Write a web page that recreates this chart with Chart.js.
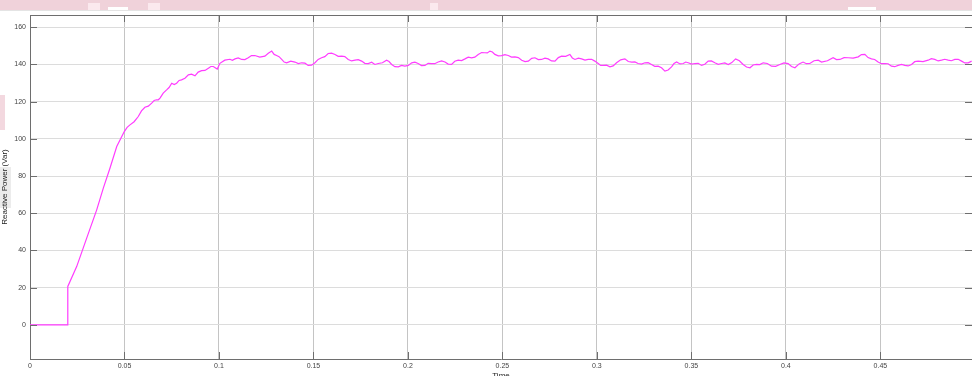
<!DOCTYPE html>
<html>
<head>
<meta charset="utf-8">
<script src="https://cdn.jsdelivr.net/npm/chart.js@4.4.1/dist/chart.umd.min.js"></script>
<style>
  html, body { margin: 0; padding: 0; background: #ffffff; overflow: hidden; }
  canvas { display: block; }
</style>
</head>
<body>
<canvas id="q" width="972" height="376" style="width:972px;height:376px"></canvas>
<script>
// Simulation time (s)
const timeSec = [
  0, 0.0199, 0.0200, 0.0247, 0.0300, 0.0353, 0.0388, 0.0423, 0.0459, 0.0499,
  0.0514, 0.0529, 0.0551, 0.0573, 0.0590, 0.0608, 0.0626, 0.0644, 0.0657, 0.0670,
  0.0679, 0.0688, 0.0705, 0.0723, 0.0736, 0.0750, 0.0763, 0.0776, 0.0789, 0.0802,
  0.0820, 0.0838, 0.0855, 0.0873, 0.0890, 0.0908, 0.0926, 0.0944, 0.0957, 0.0970,
  0.0991, 0.1005, 0.1031, 0.1058, 0.1071, 0.1085, 0.1102, 0.1120, 0.1137, 0.1155,
  0.1172, 0.1190, 0.1216, 0.1243, 0.1261, 0.1279, 0.1292, 0.1305, 0.1318, 0.1332,
  0.1345, 0.1358, 0.1380, 0.1402, 0.1420, 0.1438, 0.1455, 0.1472, 0.1490, 0.1508,
  0.1525, 0.1543, 0.1560, 0.1578, 0.1596, 0.1614, 0.1631, 0.1649, 0.1666, 0.1684,
  0.1702, 0.1720, 0.1737, 0.1755, 0.1772, 0.1790, 0.1808, 0.1825, 0.1843, 0.1865,
  0.1887, 0.1900, 0.1914, 0.1931, 0.1949, 0.1966, 0.1984, 0.2002, 0.2020, 0.2037,
  0.2054, 0.2072, 0.2090, 0.2107, 0.2125, 0.2142, 0.2160, 0.2178, 0.2196, 0.2213,
  0.2231, 0.2248, 0.2266, 0.2284, 0.2302, 0.2319, 0.2337, 0.2354, 0.2372, 0.2390,
  0.2407, 0.2420, 0.2434, 0.2447, 0.2460, 0.2478, 0.2496, 0.2513, 0.2531, 0.2548,
  0.2566, 0.2584, 0.2602, 0.2620, 0.2637, 0.2655, 0.2672, 0.2690, 0.2707, 0.2725,
  0.2742, 0.2760, 0.2778, 0.2796, 0.2813, 0.2835, 0.2857, 0.2870, 0.2884, 0.2902,
  0.2919, 0.2937, 0.2954, 0.2972, 0.2989, 0.3007, 0.3020, 0.3033, 0.3051, 0.3069,
  0.3086, 0.3104, 0.3126, 0.3148, 0.3166, 0.3184, 0.3201, 0.3218, 0.3236, 0.3254,
  0.3271, 0.3289, 0.3306, 0.3324, 0.3342, 0.3360, 0.3377, 0.3395, 0.3408, 0.3422,
  0.3440, 0.3457, 0.3470, 0.3483, 0.3501, 0.3519, 0.3536, 0.3554, 0.3571, 0.3589,
  0.3606, 0.3624, 0.3642, 0.3660, 0.3677, 0.3695, 0.3714, 0.3734, 0.3754, 0.3774,
  0.3792, 0.3810, 0.3827, 0.3845, 0.3862, 0.3880, 0.3902, 0.3924, 0.3946, 0.3968,
  0.3990, 0.4012, 0.4030, 0.4048, 0.4070, 0.4091, 0.4109, 0.4127, 0.4149, 0.4171,
  0.4189, 0.4220, 0.4250, 0.4268, 0.4286, 0.4308, 0.4330, 0.4356, 0.4383, 0.4400,
  0.4418, 0.4435, 0.4453, 0.4470, 0.4488, 0.4506, 0.4524, 0.4541, 0.4559, 0.4576,
  0.4594, 0.4612, 0.4630, 0.4647, 0.4665, 0.4682, 0.4700, 0.4726, 0.4753, 0.4770,
  0.4788, 0.4806, 0.4824, 0.4841, 0.4859, 0.4876, 0.4894, 0.4912, 0.4930, 0.4947,
  0.4965, 0.4983
];

// Reactive power (Var)
const reactivePower = [
  0, 0, 20.6, 31.3, 46.6, 61.8, 73.5, 84.2, 95.9, 103.9,
  106.2, 107.5, 109.2, 112.0, 115.0, 117.0, 117.6, 119.2, 120.6, 121.0,
  121.0, 121.9, 124.6, 126.3, 127.6, 129.9, 129.2, 129.9, 131.4, 131.7,
  132.6, 134.4, 134.8, 133.9, 135.9, 136.7, 136.8, 138.0, 138.9, 138.9,
  137.5, 140.6, 142.3, 142.8, 142.2, 143.0, 143.5, 142.7, 142.6, 143.6,
  144.8, 144.8, 144.0, 144.5, 146.0, 147.2, 145.4, 144.8, 144.2, 142.7,
  141.3, 140.9, 141.8, 141.3, 140.5, 140.9, 140.7, 139.5, 139.6, 140.9,
  142.7, 143.6, 144.2, 145.9, 146.1, 145.4, 144.4, 144.5, 144.2, 142.7,
  141.9, 142.3, 142.6, 141.8, 140.6, 140.5, 141.2, 140.0, 140.5, 140.9,
  142.3, 141.6, 140.0, 138.8, 138.7, 139.5, 139.1, 139.5, 140.9, 141.2,
  140.5, 139.4, 139.5, 140.6, 140.5, 140.4, 141.3, 141.9, 141.3, 140.2,
  140.0, 141.7, 142.3, 142.1, 143.0, 143.9, 143.6, 143.9, 145.4, 146.4,
  146.3, 146.2, 147.2, 146.7, 145.4, 144.6, 144.8, 145.3, 144.8, 144.0,
  144.1, 143.7, 142.3, 141.5, 141.8, 143.3, 143.6, 142.6, 142.7, 143.4,
  143.0, 141.9, 141.8, 143.7, 144.5, 144.4, 145.4, 143.5, 142.7, 143.4,
  143.0, 142.3, 142.7, 142.8, 141.8, 140.5, 139.5, 139.5, 139.6, 138.7,
  139.2, 140.9, 142.5, 143.0, 141.6, 141.3, 141.4, 140.5, 140.2, 140.9,
  141.0, 140.0, 139.0, 139.1, 138.2, 136.4, 137.0, 138.7, 140.5, 141.3,
  140.3, 140.5, 141.3, 140.9, 140.2, 140.5, 140.6, 139.5, 140.1, 141.8,
  141.9, 140.9, 140.1, 140.5, 140.8, 140.0, 141.0, 143.0, 142.0, 140.0,
  138.6, 138.2, 139.7, 140.0, 139.9, 140.9, 140.5, 139.1, 139.0, 140.0,
  140.8, 140.5, 138.9, 138.2, 140.3, 141.3, 140.4, 140.5, 142.0, 142.3,
  141.3, 142.0, 143.6, 142.6, 142.7, 143.7, 143.6, 143.4, 144.1, 145.3,
  145.4, 143.7, 143.0, 142.7, 141.3, 140.4, 140.5, 140.4, 139.1, 138.8,
  139.5, 140.0, 139.5, 139.2, 140.0, 141.5, 141.8, 141.5, 142.3, 143.1,
  142.7, 141.9, 142.3, 142.8, 142.3, 142.0, 142.7, 142.8, 141.8, 140.8,
  140.9, 141.8
];

const xTicks = [0, 0.05, 0.1, 0.15, 0.2, 0.25, 0.3, 0.35, 0.4, 0.45];
const yTicks = [0, 20, 40, 60, 80, 100, 120, 140, 160];

const points = timeSec.map((t, i) => ({ x: t, y: reactivePower[i] }));

const FONT = "'Liberation Sans', Arial, sans-serif";

// Page background strip and edge patches, plus the axes frame with inner ticks
const framePlugin = {
  id: 'frame',
  beforeDraw(chart) {
    const c = chart.ctx;
    c.save();
    c.fillStyle = '#ffffff';
    c.fillRect(0, 0, chart.width, chart.height);
    c.fillStyle = '#f0d2da';
    c.fillRect(0, 0, chart.width, 10);
    c.fillStyle = '#fbe9ee';
    c.fillRect(88, 3, 12, 7);
    c.fillRect(148, 3, 12, 7);
    c.fillRect(430, 3, 8, 7);
    c.fillStyle = '#ffffff';
    c.fillRect(108, 7, 20, 3);
    c.fillRect(848, 7, 28, 3);
    c.fillStyle = '#e4e4e4';
    c.fillRect(0, 10, chart.width, 1);
    c.fillStyle = '#f3d8df';
    c.fillRect(0, 95, 5, 35);
    c.fillStyle = '#ececec';
    c.fillRect(0, 167, 11, 41);
    c.restore();
  },
  afterDatasetsDraw(chart) {
    const c = chart.ctx;
    const a = chart.chartArea;
    const xs = chart.scales.x, ys = chart.scales.y;
    const L = 7;
    c.save();
    c.strokeStyle = '#6e6e6e';
    c.lineWidth = 1;
    c.beginPath();
    c.moveTo(a.left, a.top + 0.5);
    c.lineTo(a.right, a.top + 0.5);
    xs.ticks.forEach(t => {
      const px = Math.round(xs.getPixelForValue(t.value)) + 0.5;
      c.moveTo(px, a.bottom); c.lineTo(px, a.bottom - L);
      c.moveTo(px, a.top); c.lineTo(px, a.top + L);
    });
    ys.ticks.forEach(t => {
      const py = Math.round(ys.getPixelForValue(t.value)) + 0.5;
      c.moveTo(a.left, py); c.lineTo(a.left + L, py);
      c.moveTo(a.right, py); c.lineTo(a.right - L, py);
    });
    c.stroke();
    c.restore();
  }
};

new Chart(document.getElementById('q'), {
  type: 'line',
  data: {
    datasets: [{
      data: points,
      borderColor: '#ff3cff',
      borderWidth: 1.2,
      pointRadius: 0,
      tension: 0,
      fill: false
    }]
  },
  options: {
    responsive: false,
    maintainAspectRatio: false,
    animation: false,
    devicePixelRatio: 1,
    layout: { padding: { top: 15, right: 0, left: 0, bottom: 0 } },
    plugins: { legend: { display: false }, tooltip: { enabled: false } },
    scales: {
      x: {
        type: 'linear',
        min: 0,
        max: 0.4985,
        afterBuildTicks(s) { s.ticks = xTicks.map(v => ({ value: v })); },
        afterFit(s) { s.height = 17; },
        ticks: {
          callback: v => String(v),
          color: '#444444',
          font: { family: FONT, size: 7 },
          padding: 3,
          maxRotation: 0,
          autoSkip: false
        },
        grid: { color: '#c4c4c4', lineWidth: 1, drawTicks: false },
        border: { color: '#6e6e6e', width: 1 },
        title: {
          display: true,
          text: 'Time',
          color: '#222222',
          font: { family: FONT, size: 8 },
          padding: { top: 0, bottom: -5 }
        }
      },
      y: {
        type: 'linear',
        min: -18.4,
        max: 166.6,
        afterBuildTicks(s) { s.ticks = yTicks.map(v => ({ value: v })); },
        afterFit(s) { s.width = 30; },
        ticks: {
          callback: v => String(v),
          color: '#444444',
          font: { family: FONT, size: 7 },
          padding: 4,
          autoSkip: false
        },
        grid: { color: '#dcdcdc', lineWidth: 1, drawTicks: false },
        border: { color: '#6e6e6e', width: 1 },
        title: {
          display: true,
          text: 'Reactive Power (Var)',
          color: '#222222',
          font: { family: FONT, size: 8 },
          padding: { top: 0, bottom: 0 }
        }
      }
    }
  },
  plugins: [framePlugin]
});
</script>
</body>
</html>
